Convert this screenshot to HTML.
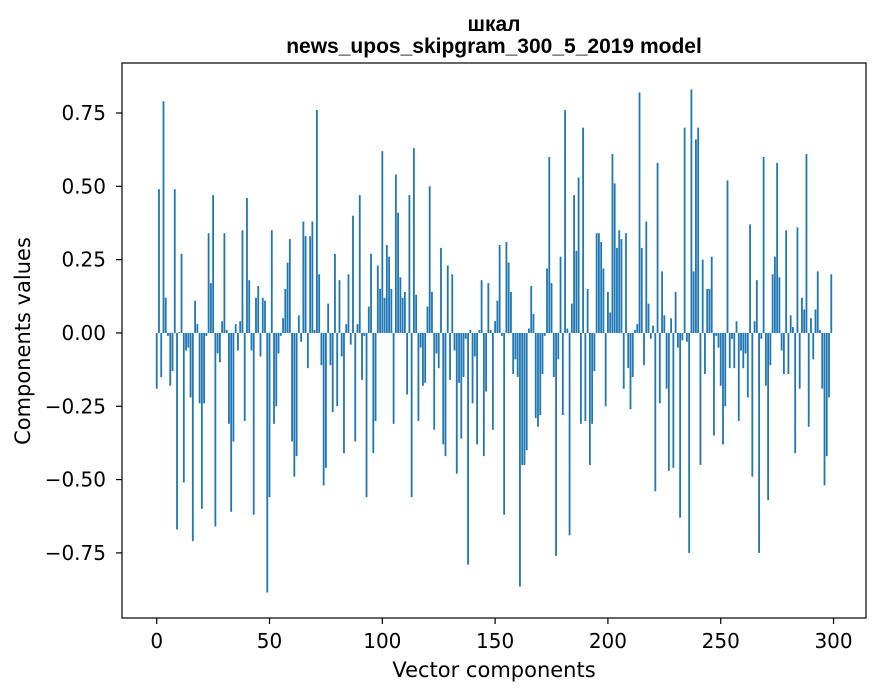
<!DOCTYPE html>
<html><head><meta charset="utf-8"><style>
body{margin:0;background:#fff;}
svg{display:block;font-family:"DejaVu Sans","Liberation Sans",sans-serif;}
.ttl{font-family:"Liberation Sans",sans-serif;font-weight:bold;font-size:21px;}
</style></head><body>
<svg id="chart" width="880" height="696" viewBox="0 0 880 696" xmlns="http://www.w3.org/2000/svg">
<rect x="0" y="0" width="880" height="696" fill="#fff"/>
<text class="ttl" x="494" y="31" text-anchor="middle">шкал</text>
<text class="ttl" x="494" y="53" text-anchor="middle">news_upos_skipgram_300_5_2019 model</text>
<g id="bars"></g>
<g id="xticks"></g>
<g id="yticks"></g>
<rect x="122" y="63" width="744" height="555" fill="none" stroke="#000" stroke-width="1.2"/>
<text x="494" y="677" text-anchor="middle" font-size="21">Vector components</text>
<text x="0" y="0" text-anchor="middle" font-size="21" transform="translate(30 341) rotate(-90)">Components values</text>
</svg>
<script>
const values = [
-0.19,0.49,-0.15,0.79,0.12,-0.01,-0.18,-0.13,0.49,-0.67,
0.003,0.27,-0.51,-0.06,-0.05,-0.22,-0.71,0.11,0.03,-0.24,
-0.6,-0.24,-0.01,0.34,0.17,0.47,-0.66,-0.07,-0.1,0.04,
0.34,0.01,-0.31,-0.61,-0.37,0.03,-0.06,0.04,0.35,-0.3,
0.46,0.18,-0.06,-0.62,0.12,0.16,-0.08,0.12,0.11,-0.885,
-0.56,0.35,-0.31,-0.25,-0.07,-0.01,0.05,0.15,0.24,0.32,
-0.37,-0.49,-0.42,0.06,-0.03,0.38,0.33,-0.12,0.33,0.38,
0.01,0.76,0.2,-0.11,-0.52,-0.46,0.1,-0.11,-0.27,0.27,
-0.25,0.18,-0.08,-0.41,0.03,0.2,-0.04,0.4,-0.37,0.03,
0.47,-0.16,-0.01,-0.56,0.09,0.27,-0.41,-0.3,0.23,0.15,
0.62,0.12,0.3,0.26,0.15,-0.31,0.54,0.41,0.19,0.12,
0.14,-0.21,0.47,-0.56,0.63,0.13,-0.3,-0.05,-0.18,-0.17,
0.09,0.5,0.14,-0.33,-0.07,-0.12,0.29,-0.38,-0.42,0.23,
-0.16,0.2,-0.06,-0.48,-0.17,-0.36,-0.15,-0.02,-0.79,0.01,
-0.24,-0.08,-0.38,0.01,0.18,-0.42,-0.2,0.17,0.01,-0.33,
0.04,0.11,0.3,-0.01,-0.62,0.31,0.24,0.14,-0.14,-0.09,
-0.15,-0.865,-0.45,-0.45,-0.4,0.015,0.16,0.065,-0.29,-0.32,
-0.28,-0.14,-0.01,0.22,0.6,0.17,-0.15,-0.76,-0.09,0.26,
-0.28,0.76,0.015,-0.69,0.1,0.47,0.28,0.53,-0.31,0.7,
-0.3,0.15,-0.45,-0.31,-0.13,0.34,0.34,0.31,0.22,-0.25,
0.14,0.07,0.61,0.51,0.29,0.35,0.32,-0.19,0.34,-0.12,
-0.26,-0.15,0.01,0.03,0.82,0.29,-0.11,0.38,0.1,-0.02,
0.025,-0.54,0.58,-0.24,0.21,0.06,-0.19,-0.47,0.05,-0.46,
0.14,-0.05,-0.63,-0.025,0.7,-0.03,-0.75,0.83,0.21,0.66,
0.7,-0.45,0.25,-0.14,0.15,0.15,0.26,-0.35,-0.01,-0.05,
-0.18,-0.38,-0.25,0.52,-0.12,-0.02,-0.12,0.04,-0.3,-0.06,
-0.12,-0.07,-0.22,0.37,-0.49,0.04,0.18,-0.75,-0.02,0.6,
-0.18,-0.57,-0.11,0.2,0.26,0.58,0.19,-0.06,-0.14,0.35,
-0.14,0.06,0.02,-0.41,0.36,-0.19,0.12,0.08,0.61,-0.32,
0.05,-0.09,0.08,0.21,0.01,-0.19,-0.52,-0.42,-0.22,0.2
];
const xTickValues = [0,50,100,150,200,250,300];
const yTickValues = [-0.75,-0.5,-0.25,0,0.25,0.5,0.75];
const yTickLabels = ["\u22120.75","\u22120.50","\u22120.25","0.00","0.25","0.50","0.75"];

const NS = "http://www.w3.org/2000/svg";
const L = 122, R = 866, T = 63, B = 618;
const xMin = -15.39, xMax = 314.39;
const yMin = -0.972, yMax = 0.9205;
function xScale(v){ return L + (v - xMin) / (xMax - xMin) * (R - L); }
function yScale(v){ return B - (v - yMin) / (yMax - yMin) * (B - T); }

const barsG = document.getElementById('bars');
const bw = xScale(0.8) - xScale(0);
values.forEach((v, i) => {
  const r = document.createElementNS(NS, 'rect');
  const y0 = yScale(0), y1 = yScale(v);
  r.setAttribute('x', xScale(i) - bw / 2);
  r.setAttribute('y', Math.min(y0, y1));
  r.setAttribute('width', bw);
  r.setAttribute('height', Math.max(Math.abs(y1 - y0), 0.3));
  r.setAttribute('fill', '#1f77b4');
  
  
  barsG.appendChild(r);
});

const xg = document.getElementById('xticks');
xTickValues.forEach(v => {
  const x = xScale(v);
  const ln = document.createElementNS(NS, 'line');
  ln.setAttribute('x1', x); ln.setAttribute('x2', x);
  ln.setAttribute('y1', B); ln.setAttribute('y2', B + 6);
  ln.setAttribute('stroke', '#000'); ln.setAttribute('stroke-width', '1.2');
  
  
  xg.appendChild(ln);
  const t = document.createElementNS(NS, 'text');
  t.setAttribute('x', x); t.setAttribute('y', 648);
  t.setAttribute('text-anchor', 'middle'); t.setAttribute('font-size', '20');
  t.textContent = String(v);
  
  
  xg.appendChild(t);
});

const yg = document.getElementById('yticks');
yTickValues.forEach((v, k) => {
  const y = yScale(v);
  const ln = document.createElementNS(NS, 'line');
  ln.setAttribute('x1', L - 6); ln.setAttribute('x2', L);
  ln.setAttribute('y1', y); ln.setAttribute('y2', y);
  ln.setAttribute('stroke', '#000'); ln.setAttribute('stroke-width', '1.2');
  
  
  yg.appendChild(ln);
  const t = document.createElementNS(NS, 'text');
  t.setAttribute('x', 106); t.setAttribute('y', y + 7);
  t.setAttribute('text-anchor', 'end'); t.setAttribute('font-size', '20');
  t.textContent = yTickLabels[k];
  
  
  yg.appendChild(t);
});
</script>
</body></html>
